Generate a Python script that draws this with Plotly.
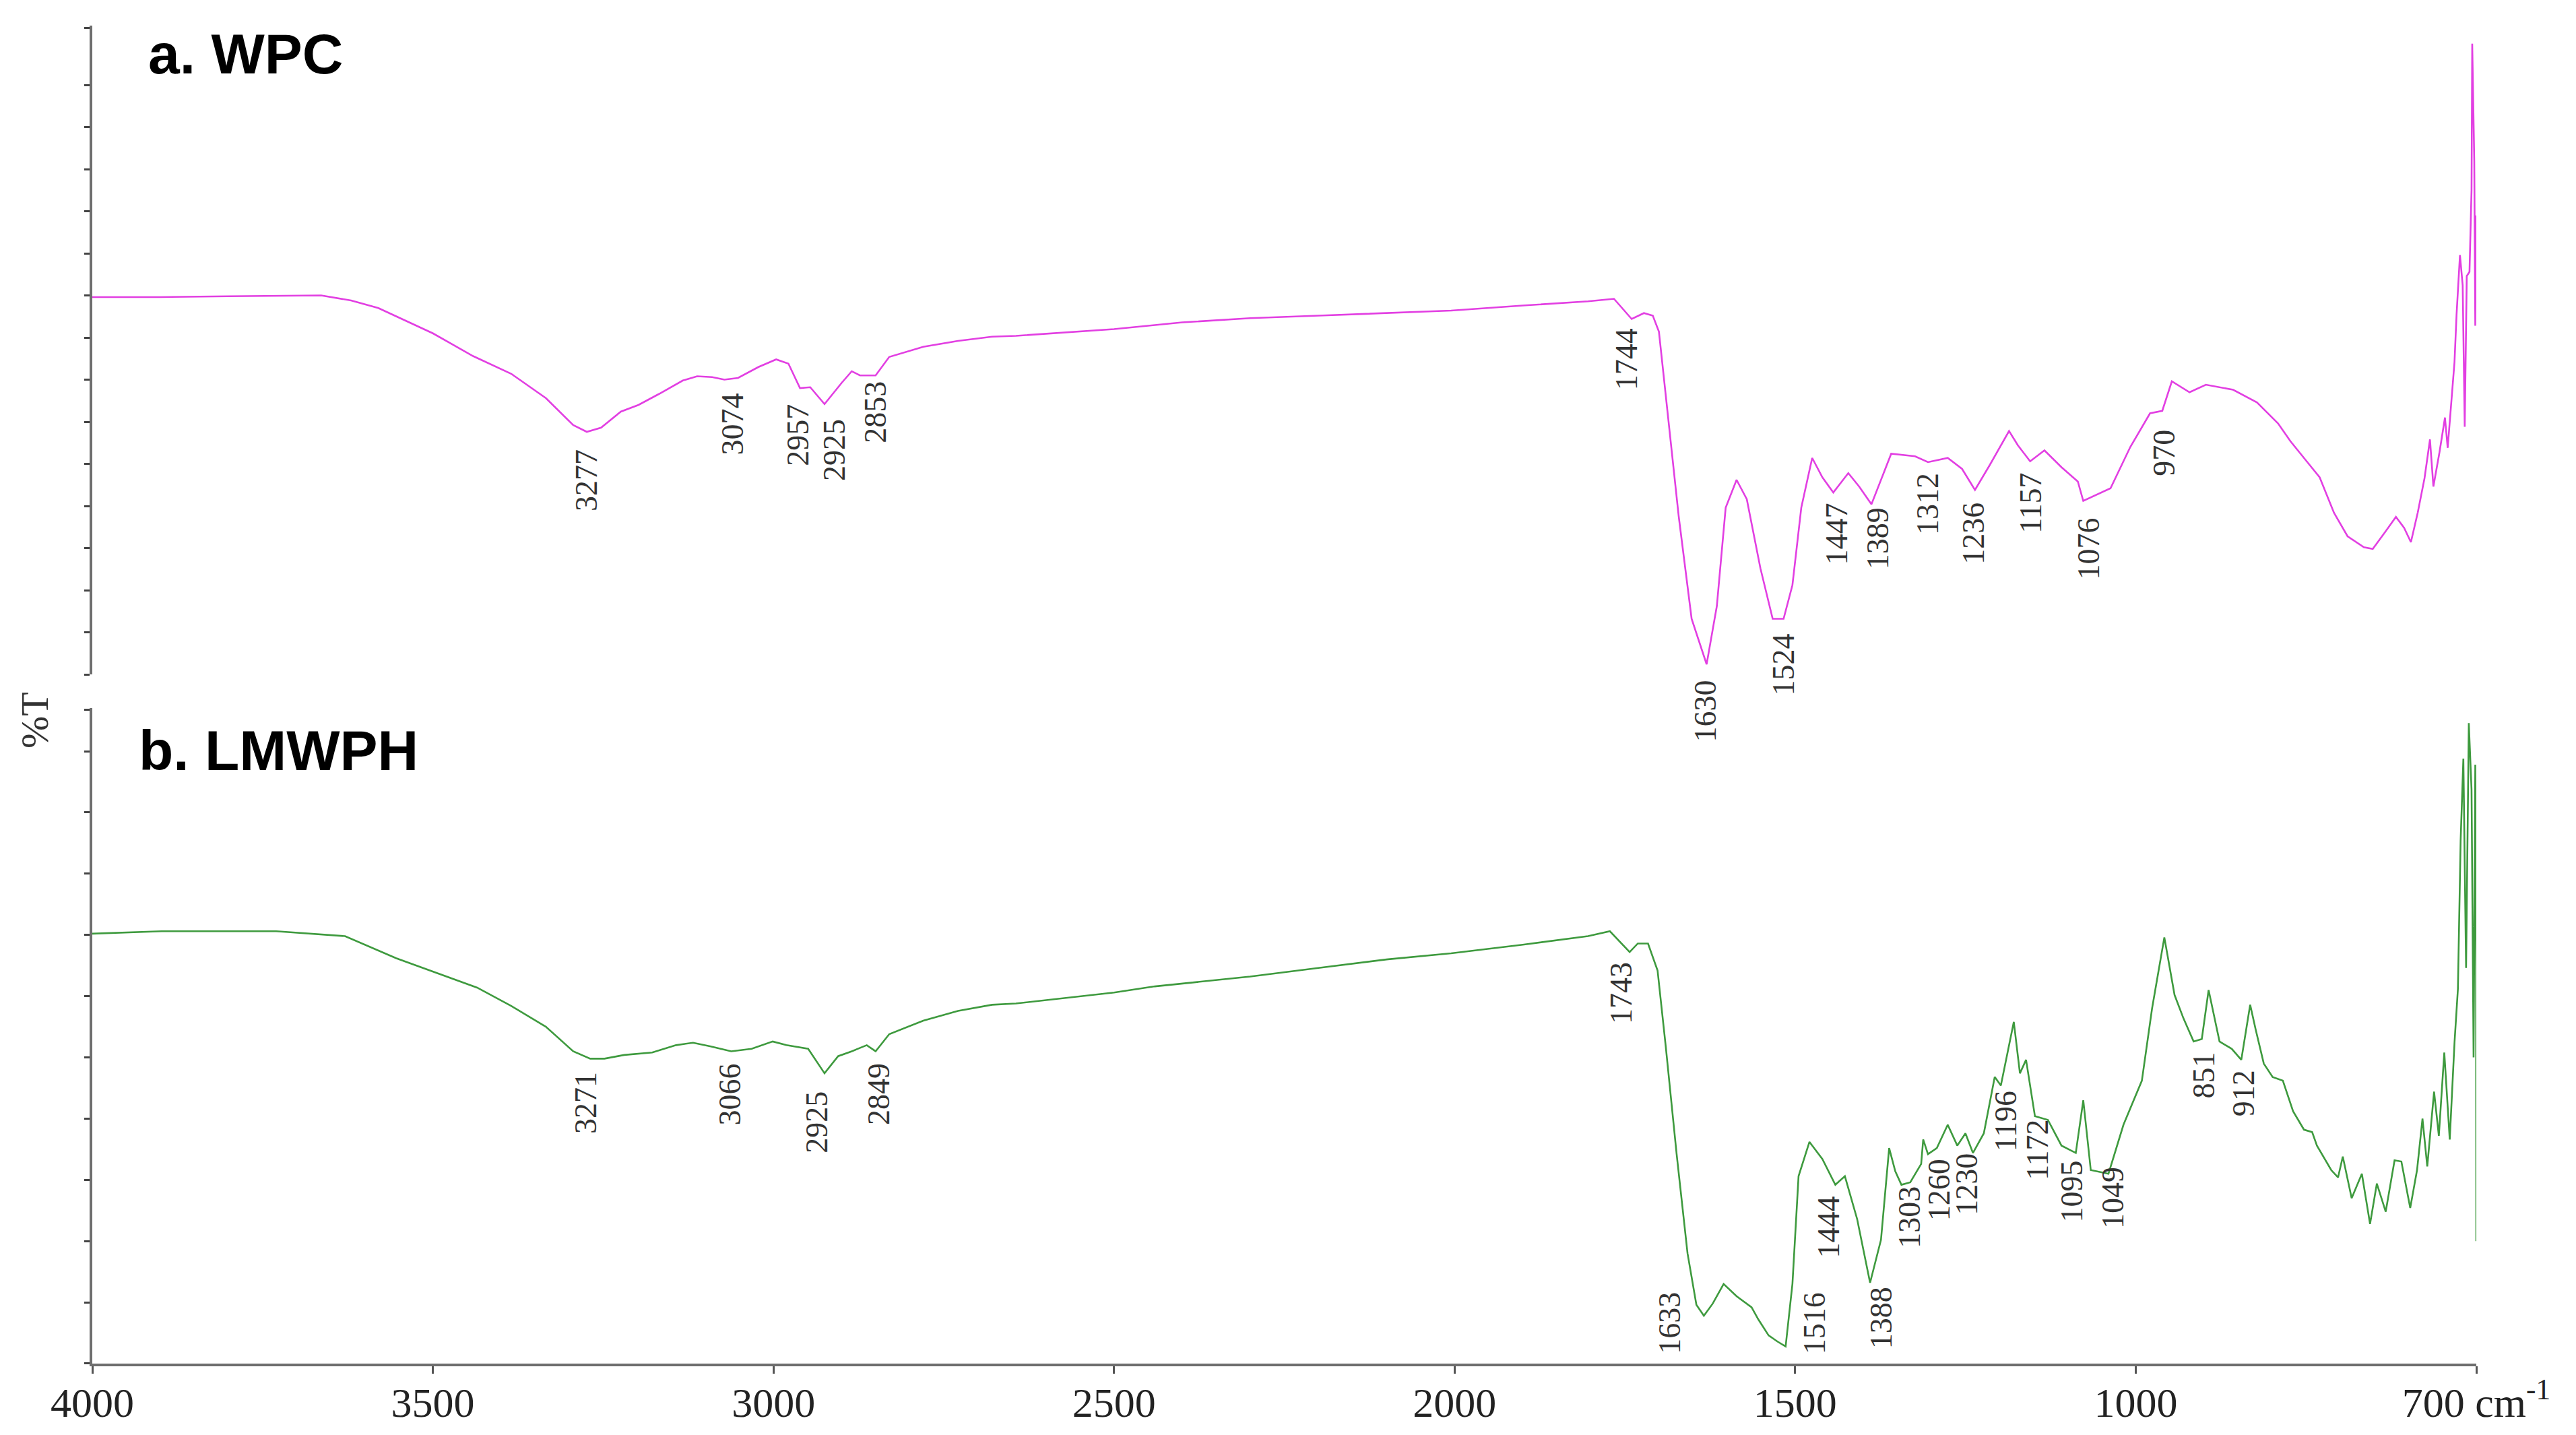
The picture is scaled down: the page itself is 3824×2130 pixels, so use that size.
import plotly.graph_objects as go

# ---------------- data (wavenumber cm-1, %T arbitrary units) ----------------
wpc_wn = [4000, 3900, 3800, 3700, 3664, 3620, 3580, 3540, 3500, 3441, 3385, 3334, 3294, 3274, 3253,
          3224, 3198, 3168, 3133, 3112, 3090, 3072, 3052, 3022, 2996, 2978, 2961, 2946, 2925, 2900,
          2885, 2873, 2850, 2830, 2780, 2729, 2679, 2644, 2500, 2400, 2300, 2200, 2100, 2005, 1900,
          1804, 1766, 1740, 1722, 1709, 1700, 1687, 1671, 1652, 1630, 1615, 1602, 1586, 1571, 1551,
          1533, 1517, 1504, 1491, 1475, 1460, 1444, 1422, 1406, 1388, 1359, 1324, 1305, 1276, 1255,
          1236, 1214, 1186, 1173, 1155, 1134, 1109, 1085, 1077, 1037, 1008, 979, 961, 947, 921,
          897, 857, 822, 791, 773, 747, 730, 709, 689, 665, 652, 633, 618, 606, 596,
          586, 576, 568, 563, 554, 546, 542, 537, 532, 529, 524, 520, 517, 514, 510,
          507, 506, 503, 501.5, 500.5]
wpc_t = [44.8, 44.8, 44.9, 45.0, 45.0, 44.4, 43.5, 42.0, 40.5, 37.8, 35.7, 32.8, 29.6, 28.8, 29.3,
         31.2, 32.0, 33.3, 34.9, 35.4, 35.3, 35.0, 35.2, 36.5, 37.4, 36.9, 34.0, 34.1, 32.1, 34.6,
         36.0, 35.5, 35.5, 37.7, 38.9, 39.6, 40.1, 40.2, 41.0, 41.8, 42.3, 42.6, 42.9, 43.2, 43.8,
         44.3, 44.6, 42.2, 42.9, 42.6, 40.7, 31.0, 18.8, 6.6, 1.2, 8.1, 19.8, 23.1, 20.8, 12.6,
         6.6, 6.6, 10.6, 19.8, 25.7, 23.4, 21.6, 23.9, 22.3, 20.2, 26.2, 25.9, 25.2, 25.7, 24.4,
         21.9, 24.9, 28.9, 27.2, 25.3, 26.6, 24.6, 22.9, 20.6, 22.1, 27.0, 31.0, 31.3, 34.8, 33.5,
         34.4, 33.8, 32.3, 29.8, 27.7, 25.1, 23.4, 19.2, 16.4, 15.1, 14.9, 17.0, 18.7, 17.4, 15.7,
         19.2, 23.3, 27.9, 22.3, 26.4, 30.5, 26.9, 32.0, 37.1, 42.7, 49.8, 46.2, 29.4, 47.3, 47.8,
         57.5, 74.9, 61.0, 41.4, 54.5]

lmwph_wn = [4000, 3898, 3730, 3629, 3554, 3435, 3385, 3334, 3294, 3269, 3248, 3219, 3178, 3143, 3118,
            3092, 3062, 3032, 3001, 2981, 2949, 2925, 2905, 2885, 2863, 2850, 2830, 2780, 2729, 2679,
            2644, 2500, 2440, 2300, 2200, 2100, 2005, 1900, 1804, 1772, 1743, 1731, 1716, 1702, 1690,
            1674, 1658, 1645, 1634, 1621, 1605, 1586, 1564, 1554, 1539, 1526, 1514, 1504, 1495, 1479,
            1460, 1441, 1427, 1409, 1390, 1374, 1362, 1353, 1344, 1331, 1315, 1312, 1305, 1292, 1276,
            1262, 1250, 1239, 1223, 1207, 1198, 1179, 1170, 1161, 1148, 1129, 1109, 1088, 1077, 1066,
            1040, 1018, 991, 976, 958, 943, 930, 915, 903, 893, 877, 859, 845, 832, 824,
            812, 799, 784, 769, 753, 741, 734, 713, 703, 696, 683, 668, 656, 646, 633,
            620, 610, 597, 587, 579, 572, 562, 555, 547, 539, 532, 527, 523, 519, 515,
            511, 507, 504, 501.5, 500.5, 500]
lmwph_t = [35.1, 35.3, 35.3, 34.9, 33.1, 30.7, 29.2, 27.5, 25.5, 24.9, 24.9, 25.2, 25.4, 26.0, 26.2,
           25.9, 25.5, 25.7, 26.3, 26.0, 25.7, 23.7, 25.1, 25.5, 26.0, 25.5, 26.9, 28.0, 28.8, 29.3,
           29.4, 30.3, 30.8, 31.6, 32.3, 33.0, 33.5, 34.2, 34.9, 35.3, 33.6, 34.3, 34.3, 32.1, 25.9,
           17.1, 9.0, 4.8, 3.9, 4.9, 6.5, 5.5, 4.6, 3.6, 2.3, 1.8, 1.4, 6.5, 15.3, 18.1,
           16.7, 14.6, 15.3, 11.8, 6.6, 10.1, 17.6, 15.7, 14.6, 14.8, 16.3, 18.3, 17.1, 17.6, 19.5,
           17.8, 18.8, 17.2, 18.8, 23.4, 22.7, 27.9, 23.7, 24.8, 20.2, 19.9, 17.8, 17.2, 21.5, 15.8,
           15.5, 19.5, 23.1, 29.0, 34.8, 30.1, 28.2, 26.3, 26.5, 30.5, 26.3, 25.7, 24.8, 29.3, 27.3,
           24.5, 23.4, 23.1, 20.6, 19.1, 18.9, 17.8, 15.8, 15.2, 16.9, 13.5, 15.5, 11.4, 14.7, 12.4,
           16.6, 16.5, 12.7, 15.8, 20.0, 16.1, 22.2, 18.6, 25.4, 18.3, 26.2, 30.6, 42.7, 49.4, 32.3,
           52.3, 46.9, 25.0, 48.9, 40.5, 10.0]

# peak labels
wpc_peaks = ["3277", "3074", "2957", "2925", "2853", "1744", "1630", "1524", "1447", "1389",
             "1312", "1236", "1157", "1076", "970"]
lmwph_peaks = ["3271", "3066", "2925", "2849", "1743", "1633", "1516", "1444", "1388", "1303",
               "1260", "1230", "1196", "1172", "1095", "1049", "851", "912"]

x_ticks = [4000, 3500, 3000, 2500, 2000, 1500, 1000, 500]
x_tick_text = ["4000", "3500", "3000", "2500", "2000", "1500", "1000", "700 cm<sup>-1</sup>"]

# ---------------- label placement (layout) ----------------
wpc_label_x = [3275, 3060, 2964, 2910, 2850, 1748, 1632, 1517, 1439, 1379, 1305, 1239, 1155, 1069, 958]
wpc_label_y = [0.6601, 0.7024, 0.6938, 0.6828, 0.7110, 0.7507, 0.4879, 0.5222, 0.6198, 0.6168,
               0.6425, 0.6203, 0.6430, 0.6088, 0.6808]
lmwph_label_x = [3275, 3064, 2936, 2846, 1756, 1685, 1472, 1451, 1374, 1332, 1289, 1249, 1190, 1145,
                 1094, 1033, 901, 842]
lmwph_label_y = [0.1949, 0.2014, 0.1803, 0.2014, 0.2769, 0.0302, 0.0302, 0.1022, 0.0342, 0.1093,
                 0.1299, 0.1339, 0.1813, 0.1596, 0.1289, 0.1239, 0.2155, 0.2019]

fig = go.Figure()
fig.add_trace(go.Scatter(x=wpc_wn, y=wpc_t, mode="lines", xaxis="x", yaxis="y",
                         line=dict(color="#E23FE2", width=2.6), showlegend=False))
fig.add_trace(go.Scatter(x=lmwph_wn, y=lmwph_t, mode="lines", xaxis="x", yaxis="y2",
                         line=dict(color="#3E9A3E", width=2.6), showlegend=False))

axis_line = "#6e6e6e"
fig.update_layout(
    width=3824, height=2130, autosize=False,
    margin=dict(l=129, r=156, t=30, b=114),
    paper_bgcolor="white", plot_bgcolor="white",
    xaxis=dict(range=[4000, 500], anchor="y2", tickvals=x_ticks, ticktext=x_tick_text,
               ticks="outside", ticklen=11, tickwidth=3, tickcolor="#555",
               ticklabelstandoff=-10,
               showline=True, linecolor=axis_line, linewidth=4,
               showgrid=False, zeroline=False,
               tickfont=dict(family="Liberation Serif", size=62, color="#222")),
    yaxis=dict(domain=[0.5151, 1.0], range=[0, 77.04],
               tickvals=[0, 5, 10, 15, 20, 25, 30, 35, 40, 45, 50, 55, 60, 65, 70, 76.8],
               ticks="outside", ticklen=8, tickwidth=3, tickcolor="#444",
               showticklabels=False, showline=True, linecolor=axis_line, linewidth=4,
               showgrid=False, zeroline=False),
    yaxis2=dict(domain=[0.0, 0.4899], range=[0, 53.52],
                tickvals=[0, 5, 10, 15, 20, 25, 30, 35, 40, 45, 50, 53.4],
                ticks="outside", ticklen=8, tickwidth=3, tickcolor="#444",
                showticklabels=False, showline=True, linecolor=axis_line, linewidth=4,
                showgrid=False, zeroline=False),
)

annotations = []
for txt, xx, yy in zip(wpc_peaks, wpc_label_x, wpc_label_y):
    annotations.append(dict(text=txt, x=xx, y=yy, xref="x", yref="paper", showarrow=False,
                            textangle=-90, xanchor="center", yanchor="middle",
                            font=dict(family="Liberation Serif", size=46, color="#333")))
for txt, xx, yy in zip(lmwph_peaks, lmwph_label_x, lmwph_label_y):
    annotations.append(dict(text=txt, x=xx, y=yy, xref="x", yref="paper", showarrow=False,
                            textangle=-90, xanchor="center", yanchor="middle",
                            font=dict(family="Liberation Serif", size=46, color="#333")))

annotations.append(dict(text="<b>a. WPC</b>", x=0.023, y=0.9788, xref="paper", yref="paper",
                        showarrow=False, xanchor="left", yanchor="middle",
                        font=dict(family="Liberation Sans", size=84, color="black")))
annotations.append(dict(text="<b>b. LMWPH</b>", x=0.019, y=0.4582, xref="paper", yref="paper",
                        showarrow=False, xanchor="left", yanchor="middle",
                        font=dict(family="Liberation Sans", size=84, color="black")))
annotations.append(dict(text="%T", x=-0.024, y=0.4809, xref="paper", yref="paper",
                        showarrow=False, textangle=-90, xanchor="center", yanchor="middle",
                        font=dict(family="Liberation Serif", size=58, color="#333")))
fig.update_layout(annotations=annotations)

fig.write_html("out.html")
